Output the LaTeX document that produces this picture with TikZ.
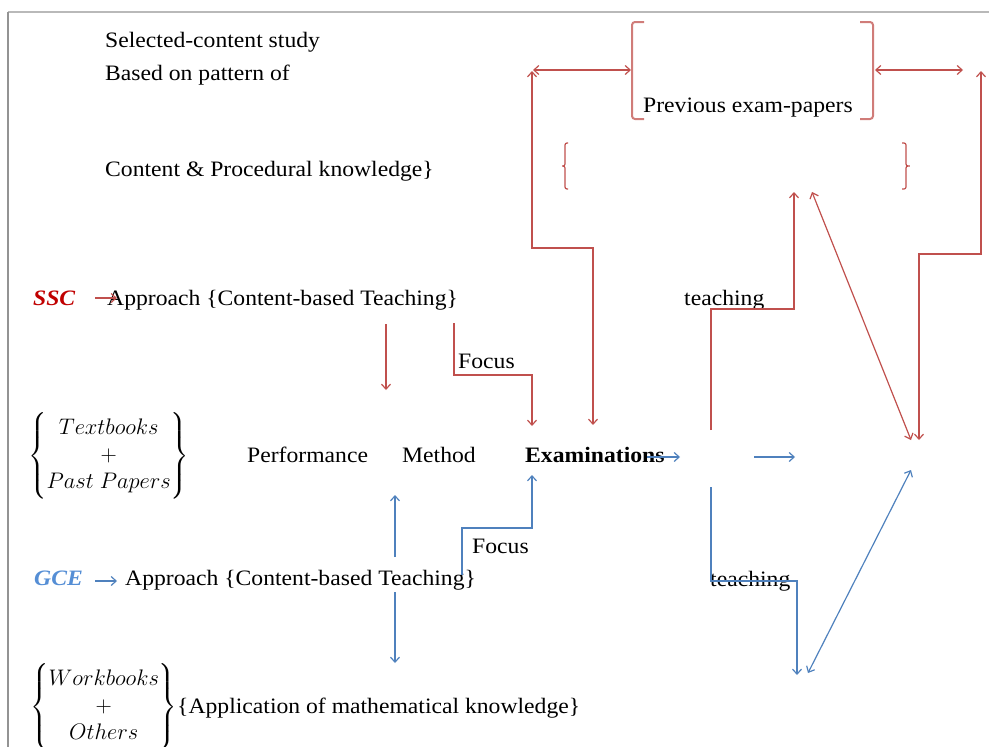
\RequirePackage{fix-cm}
\documentclass[tikz,border=0pt]{standalone}
\usepackage{amsmath}
\usepackage{fontspec}
\setmainfont[FakeStretch=1.075]{Liberation Serif}
\usetikzlibrary{arrows.meta}
\definecolor{exred}{HTML}{C0504D}
\definecolor{exblue}{HTML}{4F81BD}
\definecolor{sscred}{HTML}{C00000}
\definecolor{gceblue}{HTML}{558ED5}

\begin{document}
\begin{tikzpicture}[x=1pt, y=-1pt, >={Straight Barb[length=5pt,width=9pt]},
  every node/.style={inner sep=0pt, font=\fontsize{22}{26}\selectfont},
  txt/.style={anchor=base west},
  mathbox/.style={anchor=west, font=\fontsize{22.5}{27}\selectfont},
  redline/.style={draw=exred, line width=1.2pt},
  blueline/.style={draw=exblue, line width=1.2pt},
  bracket/.style={draw=exred!75, line width=2pt, rounded corners=3pt}]
\useasboundingbox (0,0) rectangle (989,747);
\draw[gray!55, line width=1.5pt] (8,12) -- (989,12);
\draw[gray!85, line width=1.2pt] (8,12) -- (8,747);

\node[txt] (study) at (105,47) {Selected-content study};
\node[txt] (pattern) at (105,80) {Based on pattern of};
\node[txt] (procknow) at (105,176) {Content \& Procedural knowledge\}};
\node[txt] (prevpapers) at (643,112) {Previous exam-papers};
\node[txt, text=sscred] (ssc) at (33,305) {\textbf{\textit{SSC}}};
\node[txt] (sscapproach) at (107,305) {Approach \{Content-based Teaching\}};
\node[txt] (sscteach) at (684,305) {teaching};
\node[txt] (sscfocus) at (458,368) {Focus};
\node[mathbox] (textbooks) at (28,456) {$\left\{\begin{matrix}Textbooks\\+\\Past\ Papers\end{matrix}\right\}$};
\node[txt] (performance) at (247,462) {Performance};
\node[txt] (method) at (402,462) {Method};
\node[txt] (exams) at (525,462) {\textbf{Examinations}};
\node[txt] (gcefocus) at (472,553) {Focus};
\node[txt, text=gceblue] (gce) at (34,585) {\textbf{\textit{GCE}}};
\node[txt] (gceapproach) at (125,585) {Approach \{Content-based Teaching\}};
\node[txt] (gceteach) at (710,586) {teaching};
\node[mathbox] (workbooks) at (30,707) {$\left\{\begin{matrix}Workbooks\\+\\Others\end{matrix}\right\}$};
\node[txt] (application) at (177,713) {\{Application of mathematical knowledge\}};

\draw[bracket] (644,22) -- (632,22) -- (632,119) -- (644,119);
\draw[bracket] (860,22) -- (873,22) -- (873,119) -- (860,119);
\draw[redline, rounded corners=2pt] (568,143) -- (565,143) -- (565,166) -- (561,166) -- (565,166) -- (565,189) -- (568,189);
\draw[redline, rounded corners=2pt] (902,143) -- (906,143) -- (906,166) -- (911,166) -- (906,166) -- (906,189) -- (902,189);

\coordinate (sscout) at (95,298);   \coordinate (sscin) at (117,298);
\coordinate (methtop) at (386,324); \coordinate (methin) at (386,390);
\coordinate (sfocus) at (454,323);  \coordinate (examin) at (532,426);
\coordinate (examup) at (593,425);  \coordinate (prevleft) at (532,71);
\coordinate (pl1) at (533,70);      \coordinate (pl2) at (631,70);
\coordinate (pr1) at (875,70);      \coordinate (pr2) at (963,70);
\coordinate (prevright) at (981,71); \coordinate (resred) at (919,440);
\coordinate (steach) at (711,430);  \coordinate (knowin) at (794,192);
\coordinate (knowdiag) at (812,192); \coordinate (resdiag) at (911,440);
\draw[redline, ->] (sscout) -- (sscin);
\draw[redline, ->] (methtop) -- (methin);
\draw[redline, ->] (sfocus) |- (532,375) -- (examin);
\draw[redline, <->] (examup) -- (593,248) -- (532,248) -- (prevleft);
\draw[redline, <->] (pl1) -- (pl2);
\draw[redline, <->] (pr1) -- (pr2);
\draw[redline, <->] (prevright) -- (981,254) -- (919,254) -- (resred);
\draw[redline, ->] (steach) |- (794,309) -- (knowin);
\draw[redline, <->] (knowdiag) -- (resdiag);

\coordinate (gceout) at (95,581);   \coordinate (gcein) at (117,581);
\coordinate (methlow) at (395,557); \coordinate (methbot) at (395,495);
\coordinate (applup) at (395,592);  \coordinate (appltop) at (395,663);
\coordinate (gfocus) at (462,575);  \coordinate (exambot) at (532,475);
\coordinate (examout) at (647,457); \coordinate (examend) at (680,457);
\coordinate (midout) at (754,457);  \coordinate (midend) at (795,457);
\coordinate (gteach) at (711,487);  \coordinate (applin) at (797,675);
\coordinate (appdiag) at (808,673); \coordinate (resblue) at (911,470);
\draw[blueline, ->] (gceout) -- (gcein);
\draw[blueline, ->] (methlow) -- (methbot);
\draw[blueline, ->] (applup) -- (appltop);
\draw[blueline, ->] (gfocus) |- (532,528) -- (exambot);
\draw[blueline, ->] (examout) -- (examend);
\draw[blueline, ->] (midout) -- (midend);
\draw[blueline, ->] (gteach) |- (797,581) -- (applin);
\draw[blueline, <->] (appdiag) -- (resblue);
\end{tikzpicture}
\end{document}
